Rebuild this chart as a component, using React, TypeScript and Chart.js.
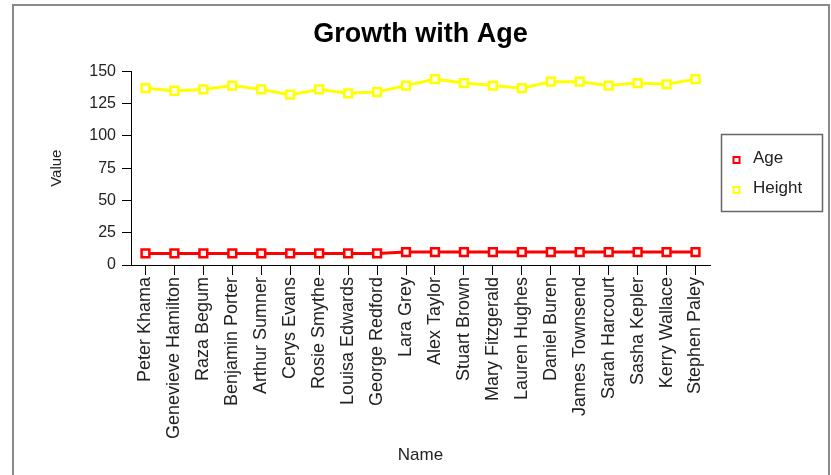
import React, { useEffect, useRef } from "react";
import { Chart, registerables } from "chart.js";

Chart.register(...registerables);

const TITLE = "Growth with Age";
const X_TITLE = "Name";
const Y_TITLE = "Value";

const names = [
  "Peter Khama",
  "Genevieve Hamilton",
  "Raza Begum",
  "Benjamin Porter",
  "Arthur Sumner",
  "Cerys Evans",
  "Rosie Smythe",
  "Louisa Edwards",
  "George Redford",
  "Lara Grey",
  "Alex Taylor",
  "Stuart Brown",
  "Mary Fitzgerald",
  "Lauren Hughes",
  "Daniel Buren",
  "James Townsend",
  "Sarah Harcourt",
  "Sasha Kepler",
  "Kerry Wallace",
  "Stephen Paley",
];

const ageValues = [9, 9, 9, 9, 9, 9, 9, 9, 9, 10, 10, 10, 10, 10, 10, 10, 10, 10, 10, 10];
const heightValues = [137, 135, 136, 139, 136, 132, 136, 133, 134, 139, 144, 141, 139, 137, 142, 142, 139, 141, 140, 144];

const seriesLabels = ["Age", "Height"];
const seriesColors = ["#ff0000", "#ffff00"];

const W = 831;
const H = 475;
const FONT = "Arial, 'Liberation Sans', sans-serif";

const framePlugin = {
  id: "frame",
  beforeDraw(chart: any) {
    const ctx = chart.ctx;
    ctx.save();
    ctx.fillStyle = "#ffffff";
    ctx.fillRect(0, 0, chart.width, chart.height);
    ctx.strokeStyle = "#8a8a8a";
    ctx.lineWidth = 2;
    ctx.strokeRect(13, 5, 816, 480);
    ctx.restore();
  },
};

const legendPlugin = {
  id: "boxLegend",
  afterDraw(chart: any) {
    const ctx = chart.ctx;
    ctx.save();
    const bx = 721, by = 134, bw = 101, bh = 77;
    ctx.strokeStyle = "#666666";
    ctx.lineWidth = 1.5;
    ctx.strokeRect(bx + 0.5, by + 0.5, bw, bh);
    const rows = [160, 190];
    chart.data.datasets.forEach((ds: any, i: number) => {
      const cy = rows[i];
      const cx = 736.5;
      ctx.fillStyle = "#ffffff";
      ctx.fillRect(cx - 3, cy - 3, 6, 6);
      ctx.strokeStyle = ds.borderColor;
      ctx.lineWidth = 2;
      ctx.strokeRect(cx - 3, cy - 3, 6, 6);
      ctx.fillStyle = "#222222";
      ctx.font = `17px ${FONT}`;
      ctx.textBaseline = "middle";
      ctx.textAlign = "left";
      ctx.fillText(ds.label, 753, cy - 2);
    });
    ctx.restore();
  },
};

export default function App() {
  const ref = useRef<HTMLCanvasElement>(null);

  useEffect(() => {
    if (!ref.current) return;
    const chart = new Chart(ref.current, {
      type: "line",
      data: {
        labels: names,
        datasets: [
          {
            label: seriesLabels[0],
            data: ageValues,
            borderColor: seriesColors[0],
            backgroundColor: seriesColors[0],
            borderWidth: 3,
            pointStyle: "rect",
            pointRadius: 5.5,
            pointBorderWidth: 2.5,
            pointBackgroundColor: "#fff4f4",
            pointBorderColor: seriesColors[0],
            tension: 0,
          },
          {
            label: seriesLabels[1],
            data: heightValues,
            borderColor: seriesColors[1],
            backgroundColor: seriesColors[1],
            borderWidth: 3,
            pointStyle: "rect",
            pointRadius: 5.5,
            pointBorderWidth: 2.5,
            pointBackgroundColor: "#fffff0",
            pointBorderColor: seriesColors[1],
            tension: 0,
          },
        ],
      },
      options: {
        responsive: false,
        animation: false,
        layout: { padding: { left: 10, right: 0, top: 0, bottom: 0 } },
        plugins: {
          legend: { display: false },
          tooltip: { enabled: false },
          title: {
            display: true,
            text: TITLE,
            color: "#000000",
            font: { family: FONT, size: 27, weight: "bold" },
            padding: { top: 18, bottom: 21 },
          },
        },
        scales: {
          x: {
            type: "category",
            offset: true,
            afterFit: (s: any) => {
              s.height = 210;
            },
            grid: {
              display: true,
              drawOnChartArea: false,
              drawTicks: true,
              tickLength: 10,
              offset: false,
              color: "#000000",
            },
            border: { display: true, color: "#000000", width: 1 },
            ticks: {
              autoSkip: false,
              minRotation: 90,
              maxRotation: 90,
              padding: 2,
              color: "#222222",
              font: { family: FONT, size: 18 },
            },
            title: {
              display: true,
              text: X_TITLE,
              color: "#222222",
              font: { family: FONT, size: 17 },
              padding: { top: 0, bottom: 9 },
            },
          },
          y: {
            type: "linear",
            position: "left",
            min: 0,
            max: 150,
            afterFit: (s: any) => {
              s.width = 121;
            },
            grid: {
              display: true,
              drawOnChartArea: false,
              drawTicks: true,
              tickLength: 9,
              color: "#000000",
            },
            border: { display: true, color: "#000000", width: 1 },
            ticks: {
              stepSize: 25,
              padding: 6,
              color: "#222222",
              font: { family: FONT, size: 16 },
            },
            title: {
              display: true,
              text: Y_TITLE,
              color: "#222222",
              font: { family: FONT, size: 15 },
              padding: { top: 38, bottom: 0 },
            },
          },
          legendSpace: {
            type: "linear",
            position: "right",
            display: true,
            afterFit: (s: any) => {
              s.width = 121;
            },
            grid: { display: false },
            border: { display: false },
            ticks: { display: false },
          },
        },
      },
      plugins: [framePlugin, legendPlugin],
    });
    return () => chart.destroy();
  }, []);

  return (
    <div style={{ position: "fixed", left: 0, top: 0, width: W, height: H, background: "#fff" }}>
      <canvas ref={ref} width={W} height={H} style={{ display: "block" }} />
    </div>
  );
}
